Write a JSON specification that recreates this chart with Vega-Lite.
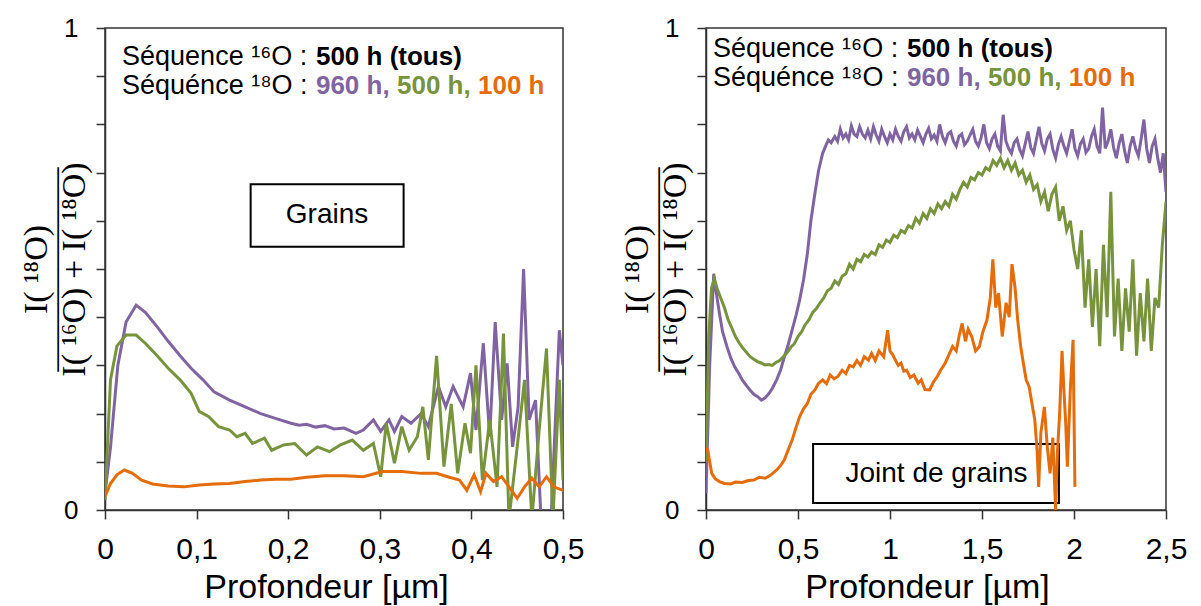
{
  "$schema": "https://vega.github.io/schema/vega-lite/v6.json",
  "autosize": {"type": "none"},
  "padding": {"left": 105, "top": 28, "right": 1096, "bottom": 578},
  "background": "white",
  "spacing": 143,
  "bounds": "flush",
  "config": {
    "font": "Liberation Sans",
    "view": {"stroke": "#333", "strokeWidth": 1.5},
    "axis": {"grid": false, "domainColor": "#333", "tickColor": "#333", "domainWidth": 1.5, "tickWidth": 1.5, "tickSize": 9, "labelColor": "#000", "titleColor": "#000", "labelFont": "Liberation Sans", "titleFont": "Liberation Sans", "labelFlush": false, "labelOverlap": false, "titleFontWeight": "normal"}
  },
  "datasets": {
    "left": [
      {"x":0,"y":0.035,"series":"960 h"},{"x":0.006,"y":0.13,"series":"960 h"},{"x":0.014,"y":0.30,"series":"960 h"},{"x":0.023,"y":0.39,"series":"960 h"},{"x":0.034,"y":0.425,"series":"960 h"},{"x":0.044,"y":0.41,"series":"960 h"},{"x":0.057,"y":0.38,"series":"960 h"},{"x":0.069,"y":0.35,"series":"960 h"},{"x":0.082,"y":0.32,"series":"960 h"},{"x":0.094,"y":0.294,"series":"960 h"},{"x":0.107,"y":0.27,"series":"960 h"},{"x":0.119,"y":0.245,"series":"960 h"},{"x":0.136,"y":0.228,"series":"960 h"},{"x":0.153,"y":0.214,"series":"960 h"},{"x":0.17,"y":0.2,"series":"960 h"},{"x":0.186,"y":0.19,"series":"960 h"},{"x":0.203,"y":0.18,"series":"960 h"},{"x":0.212,"y":0.176,"series":"960 h"},{"x":0.22,"y":0.178,"series":"960 h"},{"x":0.23,"y":0.172,"series":"960 h"},{"x":0.24,"y":0.175,"series":"960 h"},{"x":0.25,"y":0.168,"series":"960 h"},{"x":0.261,"y":0.17,"series":"960 h"},{"x":0.274,"y":0.159,"series":"960 h"},{"x":0.282,"y":0.166,"series":"960 h"},{"x":0.293,"y":0.187,"series":"960 h"},{"x":0.301,"y":0.163,"series":"960 h"},{"x":0.31,"y":0.187,"series":"960 h"},{"x":0.316,"y":0.163,"series":"960 h"},{"x":0.324,"y":0.194,"series":"960 h"},{"x":0.334,"y":0.18,"series":"960 h"},{"x":0.345,"y":0.2,"series":"960 h"},{"x":0.353,"y":0.173,"series":"960 h"},{"x":0.364,"y":0.256,"series":"960 h"},{"x":0.372,"y":0.214,"series":"960 h"},{"x":0.38,"y":0.256,"series":"960 h"},{"x":0.391,"y":0.214,"series":"960 h"},{"x":0.399,"y":0.284,"series":"960 h"},{"x":0.405,"y":0.166,"series":"960 h"},{"x":0.413,"y":0.346,"series":"960 h"},{"x":0.42,"y":0.152,"series":"960 h"},{"x":0.426,"y":0.39,"series":"960 h"},{"x":0.433,"y":0.187,"series":"960 h"},{"x":0.439,"y":0.304,"series":"960 h"},{"x":0.445,"y":0.131,"series":"960 h"},{"x":0.451,"y":0.214,"series":"960 h"},{"x":0.457,"y":0.5,"series":"960 h"},{"x":0.463,"y":0.187,"series":"960 h"},{"x":0.47,"y":0.228,"series":"960 h"},{"x":0.476,"y":-0.02,"series":"960 h"},{"x":0.487,"y":-0.02,"series":"960 h"},{"x":0.496,"y":0.373,"series":"960 h"},{"x":0.5,"y":0.3,"series":"960 h"},
      {"x":0,"y":0.02,"series":"500 h"},{"x":0.006,"y":0.27,"series":"500 h"},{"x":0.013,"y":0.34,"series":"500 h"},{"x":0.023,"y":0.363,"series":"500 h"},{"x":0.034,"y":0.363,"series":"500 h"},{"x":0.044,"y":0.346,"series":"500 h"},{"x":0.057,"y":0.32,"series":"500 h"},{"x":0.069,"y":0.294,"series":"500 h"},{"x":0.082,"y":0.27,"series":"500 h"},{"x":0.094,"y":0.242,"series":"500 h"},{"x":0.103,"y":0.204,"series":"500 h"},{"x":0.113,"y":0.194,"series":"500 h"},{"x":0.124,"y":0.173,"series":"500 h"},{"x":0.136,"y":0.166,"series":"500 h"},{"x":0.144,"y":0.152,"series":"500 h"},{"x":0.153,"y":0.159,"series":"500 h"},{"x":0.161,"y":0.138,"series":"500 h"},{"x":0.174,"y":0.149,"series":"500 h"},{"x":0.182,"y":0.124,"series":"500 h"},{"x":0.195,"y":0.135,"series":"500 h"},{"x":0.207,"y":0.138,"series":"500 h"},{"x":0.22,"y":0.114,"series":"500 h"},{"x":0.232,"y":0.131,"series":"500 h"},{"x":0.245,"y":0.121,"series":"500 h"},{"x":0.257,"y":0.135,"series":"500 h"},{"x":0.27,"y":0.145,"series":"500 h"},{"x":0.282,"y":0.124,"series":"500 h"},{"x":0.293,"y":0.138,"series":"500 h"},{"x":0.301,"y":0.069,"series":"500 h"},{"x":0.307,"y":0.18,"series":"500 h"},{"x":0.316,"y":0.097,"series":"500 h"},{"x":0.324,"y":0.173,"series":"500 h"},{"x":0.332,"y":0.124,"series":"500 h"},{"x":0.341,"y":0.152,"series":"500 h"},{"x":0.347,"y":0.214,"series":"500 h"},{"x":0.353,"y":0.104,"series":"500 h"},{"x":0.362,"y":0.32,"series":"500 h"},{"x":0.37,"y":0.09,"series":"500 h"},{"x":0.378,"y":0.22,"series":"500 h"},{"x":0.385,"y":0.076,"series":"500 h"},{"x":0.393,"y":0.18,"series":"500 h"},{"x":0.399,"y":0.118,"series":"500 h"},{"x":0.405,"y":0.3,"series":"500 h"},{"x":0.412,"y":0.062,"series":"500 h"},{"x":0.42,"y":0.187,"series":"500 h"},{"x":0.428,"y":0.048,"series":"500 h"},{"x":0.435,"y":0.366,"series":"500 h"},{"x":0.441,"y":-0.02,"series":"500 h"},{"x":0.45,"y":0.131,"series":"500 h"},{"x":0.458,"y":0.27,"series":"500 h"},{"x":0.466,"y":-0.02,"series":"500 h"},{"x":0.474,"y":0.166,"series":"500 h"},{"x":0.482,"y":0.335,"series":"500 h"},{"x":0.489,"y":-0.02,"series":"500 h"},{"x":0.496,"y":0.27,"series":"500 h"},{"x":0.5,"y":0.062,"series":"500 h"},
      {"x":0,"y":0.028,"series":"100 h"},{"x":0.006,"y":0.055,"series":"100 h"},{"x":0.013,"y":0.073,"series":"100 h"},{"x":0.021,"y":0.083,"series":"100 h"},{"x":0.03,"y":0.076,"series":"100 h"},{"x":0.04,"y":0.062,"series":"100 h"},{"x":0.052,"y":0.054,"series":"100 h"},{"x":0.069,"y":0.05,"series":"100 h"},{"x":0.086,"y":0.048,"series":"100 h"},{"x":0.103,"y":0.052,"series":"100 h"},{"x":0.119,"y":0.054,"series":"100 h"},{"x":0.136,"y":0.055,"series":"100 h"},{"x":0.153,"y":0.059,"series":"100 h"},{"x":0.17,"y":0.062,"series":"100 h"},{"x":0.186,"y":0.064,"series":"100 h"},{"x":0.203,"y":0.064,"series":"100 h"},{"x":0.22,"y":0.068,"series":"100 h"},{"x":0.24,"y":0.071,"series":"100 h"},{"x":0.261,"y":0.071,"series":"100 h"},{"x":0.282,"y":0.069,"series":"100 h"},{"x":0.303,"y":0.08,"series":"100 h"},{"x":0.324,"y":0.08,"series":"100 h"},{"x":0.345,"y":0.076,"series":"100 h"},{"x":0.362,"y":0.076,"series":"100 h"},{"x":0.374,"y":0.069,"series":"100 h"},{"x":0.387,"y":0.062,"series":"100 h"},{"x":0.395,"y":0.041,"series":"100 h"},{"x":0.403,"y":0.073,"series":"100 h"},{"x":0.41,"y":0.038,"series":"100 h"},{"x":0.416,"y":0.076,"series":"100 h"},{"x":0.424,"y":0.059,"series":"100 h"},{"x":0.433,"y":0.069,"series":"100 h"},{"x":0.441,"y":0.048,"series":"100 h"},{"x":0.45,"y":0.024,"series":"100 h"},{"x":0.458,"y":0.048,"series":"100 h"},{"x":0.466,"y":0.066,"series":"100 h"},{"x":0.474,"y":0.048,"series":"100 h"},{"x":0.482,"y":0.069,"series":"100 h"},{"x":0.49,"y":0.048,"series":"100 h"},{"x":0.5,"y":0.041,"series":"100 h"}
    ],
    "right": [
      {"x":0,"y":0.035,"series":"960 h"},{"x":0.02,"y":0.3,"series":"960 h"},{"x":0.042,"y":0.49,"series":"960 h"},{"x":0.06,"y":0.44,"series":"960 h"},{"x":0.073,"y":0.408,"series":"960 h"},{"x":0.09,"y":0.37,"series":"960 h"},{"x":0.114,"y":0.339,"series":"960 h"},{"x":0.135,"y":0.315,"series":"960 h"},{"x":0.156,"y":0.297,"series":"960 h"},{"x":0.18,"y":0.282,"series":"960 h"},{"x":0.197,"y":0.27,"series":"960 h"},{"x":0.22,"y":0.258,"series":"960 h"},{"x":0.239,"y":0.249,"series":"960 h"},{"x":0.26,"y":0.24,"series":"960 h"},{"x":0.281,"y":0.235,"series":"960 h"},{"x":0.301,"y":0.228,"series":"960 h"},{"x":0.32,"y":0.232,"series":"960 h"},{"x":0.343,"y":0.242,"series":"960 h"},{"x":0.36,"y":0.252,"series":"960 h"},{"x":0.384,"y":0.27,"series":"960 h"},{"x":0.405,"y":0.29,"series":"960 h"},{"x":0.426,"y":0.318,"series":"960 h"},{"x":0.448,"y":0.345,"series":"960 h"},{"x":0.468,"y":0.373,"series":"960 h"},{"x":0.49,"y":0.405,"series":"960 h"},{"x":0.509,"y":0.436,"series":"960 h"},{"x":0.53,"y":0.477,"series":"960 h"},{"x":0.551,"y":0.532,"series":"960 h"},{"x":0.57,"y":0.6,"series":"960 h"},{"x":0.592,"y":0.657,"series":"960 h"},{"x":0.612,"y":0.705,"series":"960 h"},{"x":0.634,"y":0.74,"series":"960 h"},{"x":0.65,"y":0.755,"series":"960 h"},{"x":0.665,"y":0.768,"series":"960 h"},{"x":0.68,"y":0.762,"series":"960 h"},{"x":0.7,"y":0.775,"series":"960 h"},{"x":0.715,"y":0.765,"series":"960 h"},{"x":0.73,"y":0.79,"series":"960 h"},{"x":0.745,"y":0.772,"series":"960 h"},{"x":0.76,"y":0.78,"series":"960 h"},{"x":0.775,"y":0.768,"series":"960 h"},{"x":0.79,"y":0.797,"series":"960 h"},{"x":0.805,"y":0.78,"series":"960 h"},{"x":0.82,"y":0.775,"series":"960 h"},{"x":0.835,"y":0.795,"series":"960 h"},{"x":0.85,"y":0.78,"series":"960 h"},{"x":0.865,"y":0.772,"series":"960 h"},{"x":0.88,"y":0.788,"series":"960 h"},{"x":0.895,"y":0.77,"series":"960 h"},{"x":0.91,"y":0.795,"series":"960 h"},{"x":0.925,"y":0.778,"series":"960 h"},{"x":0.94,"y":0.765,"series":"960 h"},{"x":0.955,"y":0.79,"series":"960 h"},{"x":0.97,"y":0.775,"series":"960 h"},{"x":0.985,"y":0.762,"series":"960 h"},{"x":1.0,"y":0.78,"series":"960 h"},{"x":1.015,"y":0.768,"series":"960 h"},{"x":1.03,"y":0.79,"series":"960 h"},{"x":1.045,"y":0.775,"series":"960 h"},{"x":1.06,"y":0.765,"series":"960 h"},{"x":1.075,"y":0.785,"series":"960 h"},{"x":1.09,"y":0.795,"series":"960 h"},{"x":1.105,"y":0.772,"series":"960 h"},{"x":1.12,"y":0.78,"series":"960 h"},{"x":1.135,"y":0.768,"series":"960 h"},{"x":1.15,"y":0.788,"series":"960 h"},{"x":1.165,"y":0.775,"series":"960 h"},{"x":1.18,"y":0.762,"series":"960 h"},{"x":1.195,"y":0.78,"series":"960 h"},{"x":1.21,"y":0.792,"series":"960 h"},{"x":1.225,"y":0.77,"series":"960 h"},{"x":1.24,"y":0.778,"series":"960 h"},{"x":1.255,"y":0.765,"series":"960 h"},{"x":1.27,"y":0.8,"series":"960 h"},{"x":1.285,"y":0.775,"series":"960 h"},{"x":1.3,"y":0.762,"series":"960 h"},{"x":1.315,"y":0.78,"series":"960 h"},{"x":1.33,"y":0.785,"series":"960 h"},{"x":1.345,"y":0.765,"series":"960 h"},{"x":1.36,"y":0.755,"series":"960 h"},{"x":1.375,"y":0.775,"series":"960 h"},{"x":1.39,"y":0.78,"series":"960 h"},{"x":1.405,"y":0.758,"series":"960 h"},{"x":1.42,"y":0.765,"series":"960 h"},{"x":1.435,"y":0.778,"series":"960 h"},{"x":1.45,"y":0.79,"series":"960 h"},{"x":1.465,"y":0.765,"series":"960 h"},{"x":1.48,"y":0.755,"series":"960 h"},{"x":1.495,"y":0.772,"series":"960 h"},{"x":1.51,"y":0.8,"series":"960 h"},{"x":1.525,"y":0.762,"series":"960 h"},{"x":1.54,"y":0.75,"series":"960 h"},{"x":1.555,"y":0.77,"series":"960 h"},{"x":1.57,"y":0.78,"series":"960 h"},{"x":1.585,"y":0.755,"series":"960 h"},{"x":1.6,"y":0.745,"series":"960 h"},{"x":1.615,"y":0.82,"series":"960 h"},{"x":1.63,"y":0.765,"series":"960 h"},{"x":1.645,"y":0.75,"series":"960 h"},{"x":1.66,"y":0.74,"series":"960 h"},{"x":1.675,"y":0.762,"series":"960 h"},{"x":1.69,"y":0.77,"series":"960 h"},{"x":1.705,"y":0.748,"series":"960 h"},{"x":1.72,"y":0.735,"series":"960 h"},{"x":1.735,"y":0.76,"series":"960 h"},{"x":1.75,"y":0.785,"series":"960 h"},{"x":1.765,"y":0.752,"series":"960 h"},{"x":1.78,"y":0.74,"series":"960 h"},{"x":1.795,"y":0.768,"series":"960 h"},{"x":1.81,"y":0.795,"series":"960 h"},{"x":1.825,"y":0.76,"series":"960 h"},{"x":1.84,"y":0.745,"series":"960 h"},{"x":1.855,"y":0.77,"series":"960 h"},{"x":1.87,"y":0.78,"series":"960 h"},{"x":1.885,"y":0.748,"series":"960 h"},{"x":1.9,"y":0.73,"series":"960 h"},{"x":1.915,"y":0.758,"series":"960 h"},{"x":1.93,"y":0.775,"series":"960 h"},{"x":1.945,"y":0.755,"series":"960 h"},{"x":1.96,"y":0.74,"series":"960 h"},{"x":1.975,"y":0.765,"series":"960 h"},{"x":1.99,"y":0.79,"series":"960 h"},{"x":2.005,"y":0.75,"series":"960 h"},{"x":2.02,"y":0.735,"series":"960 h"},{"x":2.035,"y":0.76,"series":"960 h"},{"x":2.05,"y":0.77,"series":"960 h"},{"x":2.065,"y":0.742,"series":"960 h"},{"x":2.08,"y":0.75,"series":"960 h"},{"x":2.095,"y":0.775,"series":"960 h"},{"x":2.11,"y":0.79,"series":"960 h"},{"x":2.125,"y":0.755,"series":"960 h"},{"x":2.14,"y":0.74,"series":"960 h"},{"x":2.155,"y":0.835,"series":"960 h"},{"x":2.17,"y":0.75,"series":"960 h"},{"x":2.185,"y":0.765,"series":"960 h"},{"x":2.2,"y":0.79,"series":"960 h"},{"x":2.215,"y":0.752,"series":"960 h"},{"x":2.23,"y":0.73,"series":"960 h"},{"x":2.245,"y":0.76,"series":"960 h"},{"x":2.26,"y":0.78,"series":"960 h"},{"x":2.275,"y":0.745,"series":"960 h"},{"x":2.29,"y":0.72,"series":"960 h"},{"x":2.305,"y":0.755,"series":"960 h"},{"x":2.32,"y":0.775,"series":"960 h"},{"x":2.335,"y":0.75,"series":"960 h"},{"x":2.35,"y":0.735,"series":"960 h"},{"x":2.365,"y":0.77,"series":"960 h"},{"x":2.38,"y":0.81,"series":"960 h"},{"x":2.395,"y":0.75,"series":"960 h"},{"x":2.41,"y":0.72,"series":"960 h"},{"x":2.425,"y":0.755,"series":"960 h"},{"x":2.44,"y":0.77,"series":"960 h"},{"x":2.455,"y":0.73,"series":"960 h"},{"x":2.47,"y":0.7,"series":"960 h"},{"x":2.485,"y":0.74,"series":"960 h"},{"x":2.5,"y":0.66,"series":"960 h"},
      {"x":0,"y":0.1,"series":"500 h"},{"x":0.015,"y":0.36,"series":"500 h"},{"x":0.03,"y":0.46,"series":"500 h"},{"x":0.045,"y":0.48,"series":"500 h"},{"x":0.06,"y":0.46,"series":"500 h"},{"x":0.08,"y":0.44,"series":"500 h"},{"x":0.1,"y":0.42,"series":"500 h"},{"x":0.12,"y":0.395,"series":"500 h"},{"x":0.14,"y":0.378,"series":"500 h"},{"x":0.16,"y":0.36,"series":"500 h"},{"x":0.18,"y":0.347,"series":"500 h"},{"x":0.2,"y":0.336,"series":"500 h"},{"x":0.22,"y":0.327,"series":"500 h"},{"x":0.24,"y":0.318,"series":"500 h"},{"x":0.26,"y":0.313,"series":"500 h"},{"x":0.28,"y":0.308,"series":"500 h"},{"x":0.3,"y":0.305,"series":"500 h"},{"x":0.32,"y":0.301,"series":"500 h"},{"x":0.34,"y":0.302,"series":"500 h"},{"x":0.36,"y":0.3,"series":"500 h"},{"x":0.38,"y":0.306,"series":"500 h"},{"x":0.4,"y":0.31,"series":"500 h"},{"x":0.42,"y":0.318,"series":"500 h"},{"x":0.44,"y":0.326,"series":"500 h"},{"x":0.46,"y":0.337,"series":"500 h"},{"x":0.48,"y":0.345,"series":"500 h"},{"x":0.5,"y":0.36,"series":"500 h"},{"x":0.52,"y":0.37,"series":"500 h"},{"x":0.54,"y":0.385,"series":"500 h"},{"x":0.56,"y":0.395,"series":"500 h"},{"x":0.58,"y":0.41,"series":"500 h"},{"x":0.6,"y":0.418,"series":"500 h"},{"x":0.62,"y":0.43,"series":"500 h"},{"x":0.64,"y":0.44,"series":"500 h"},{"x":0.66,"y":0.455,"series":"500 h"},{"x":0.68,"y":0.46,"series":"500 h"},{"x":0.7,"y":0.475,"series":"500 h"},{"x":0.72,"y":0.468,"series":"500 h"},{"x":0.74,"y":0.485,"series":"500 h"},{"x":0.76,"y":0.49,"series":"500 h"},{"x":0.78,"y":0.51,"series":"500 h"},{"x":0.8,"y":0.5,"series":"500 h"},{"x":0.82,"y":0.52,"series":"500 h"},{"x":0.84,"y":0.515,"series":"500 h"},{"x":0.86,"y":0.53,"series":"500 h"},{"x":0.88,"y":0.525,"series":"500 h"},{"x":0.9,"y":0.535,"series":"500 h"},{"x":0.92,"y":0.53,"series":"500 h"},{"x":0.94,"y":0.55,"series":"500 h"},{"x":0.96,"y":0.545,"series":"500 h"},{"x":0.98,"y":0.56,"series":"500 h"},{"x":1.0,"y":0.555,"series":"500 h"},{"x":1.02,"y":0.57,"series":"500 h"},{"x":1.04,"y":0.565,"series":"500 h"},{"x":1.06,"y":0.58,"series":"500 h"},{"x":1.08,"y":0.575,"series":"500 h"},{"x":1.1,"y":0.59,"series":"500 h"},{"x":1.12,"y":0.585,"series":"500 h"},{"x":1.14,"y":0.605,"series":"500 h"},{"x":1.16,"y":0.595,"series":"500 h"},{"x":1.18,"y":0.615,"series":"500 h"},{"x":1.2,"y":0.605,"series":"500 h"},{"x":1.22,"y":0.625,"series":"500 h"},{"x":1.24,"y":0.615,"series":"500 h"},{"x":1.26,"y":0.635,"series":"500 h"},{"x":1.28,"y":0.625,"series":"500 h"},{"x":1.3,"y":0.64,"series":"500 h"},{"x":1.32,"y":0.63,"series":"500 h"},{"x":1.34,"y":0.655,"series":"500 h"},{"x":1.36,"y":0.645,"series":"500 h"},{"x":1.38,"y":0.665,"series":"500 h"},{"x":1.4,"y":0.68,"series":"500 h"},{"x":1.42,"y":0.67,"series":"500 h"},{"x":1.44,"y":0.69,"series":"500 h"},{"x":1.46,"y":0.685,"series":"500 h"},{"x":1.48,"y":0.7,"series":"500 h"},{"x":1.5,"y":0.695,"series":"500 h"},{"x":1.52,"y":0.71,"series":"500 h"},{"x":1.54,"y":0.705,"series":"500 h"},{"x":1.56,"y":0.725,"series":"500 h"},{"x":1.58,"y":0.715,"series":"500 h"},{"x":1.6,"y":0.73,"series":"500 h"},{"x":1.62,"y":0.71,"series":"500 h"},{"x":1.64,"y":0.725,"series":"500 h"},{"x":1.66,"y":0.705,"series":"500 h"},{"x":1.68,"y":0.72,"series":"500 h"},{"x":1.7,"y":0.695,"series":"500 h"},{"x":1.72,"y":0.705,"series":"500 h"},{"x":1.74,"y":0.68,"series":"500 h"},{"x":1.76,"y":0.695,"series":"500 h"},{"x":1.78,"y":0.665,"series":"500 h"},{"x":1.8,"y":0.675,"series":"500 h"},{"x":1.82,"y":0.64,"series":"500 h"},{"x":1.84,"y":0.66,"series":"500 h"},{"x":1.86,"y":0.62,"series":"500 h"},{"x":1.88,"y":0.655,"series":"500 h"},{"x":1.9,"y":0.67,"series":"500 h"},{"x":1.92,"y":0.6,"series":"500 h"},{"x":1.94,"y":0.63,"series":"500 h"},{"x":1.96,"y":0.58,"series":"500 h"},{"x":1.98,"y":0.6,"series":"500 h"},{"x":2.0,"y":0.54,"series":"500 h"},{"x":2.02,"y":0.5,"series":"500 h"},{"x":2.04,"y":0.58,"series":"500 h"},{"x":2.06,"y":0.42,"series":"500 h"},{"x":2.08,"y":0.52,"series":"500 h"},{"x":2.1,"y":0.38,"series":"500 h"},{"x":2.12,"y":0.5,"series":"500 h"},{"x":2.14,"y":0.34,"series":"500 h"},{"x":2.16,"y":0.55,"series":"500 h"},{"x":2.18,"y":0.4,"series":"500 h"},{"x":2.2,"y":0.66,"series":"500 h"},{"x":2.22,"y":0.36,"series":"500 h"},{"x":2.24,"y":0.48,"series":"500 h"},{"x":2.26,"y":0.33,"series":"500 h"},{"x":2.28,"y":0.46,"series":"500 h"},{"x":2.3,"y":0.37,"series":"500 h"},{"x":2.32,"y":0.52,"series":"500 h"},{"x":2.34,"y":0.32,"series":"500 h"},{"x":2.36,"y":0.45,"series":"500 h"},{"x":2.38,"y":0.35,"series":"500 h"},{"x":2.4,"y":0.48,"series":"500 h"},{"x":2.42,"y":0.33,"series":"500 h"},{"x":2.44,"y":0.44,"series":"500 h"},{"x":2.46,"y":0.42,"series":"500 h"},{"x":2.48,"y":0.55,"series":"500 h"},{"x":2.5,"y":0.64,"series":"500 h"},
      {"x":0,"y":0.13,"series":"100 h"},{"x":0.01,"y":0.124,"series":"100 h"},{"x":0.02,"y":0.1,"series":"100 h"},{"x":0.031,"y":0.076,"series":"100 h"},{"x":0.05,"y":0.065,"series":"100 h"},{"x":0.073,"y":0.059,"series":"100 h"},{"x":0.1,"y":0.055,"series":"100 h"},{"x":0.135,"y":0.054,"series":"100 h"},{"x":0.16,"y":0.058,"series":"100 h"},{"x":0.197,"y":0.057,"series":"100 h"},{"x":0.23,"y":0.061,"series":"100 h"},{"x":0.26,"y":0.062,"series":"100 h"},{"x":0.29,"y":0.068,"series":"100 h"},{"x":0.322,"y":0.066,"series":"100 h"},{"x":0.35,"y":0.072,"series":"100 h"},{"x":0.384,"y":0.083,"series":"100 h"},{"x":0.405,"y":0.092,"series":"100 h"},{"x":0.426,"y":0.104,"series":"100 h"},{"x":0.447,"y":0.125,"series":"100 h"},{"x":0.468,"y":0.145,"series":"100 h"},{"x":0.49,"y":0.172,"series":"100 h"},{"x":0.509,"y":0.194,"series":"100 h"},{"x":0.53,"y":0.21,"series":"100 h"},{"x":0.551,"y":0.221,"series":"100 h"},{"x":0.57,"y":0.24,"series":"100 h"},{"x":0.592,"y":0.249,"series":"100 h"},{"x":0.61,"y":0.262,"series":"100 h"},{"x":0.634,"y":0.27,"series":"100 h"},{"x":0.655,"y":0.262,"series":"100 h"},{"x":0.675,"y":0.28,"series":"100 h"},{"x":0.696,"y":0.272,"series":"100 h"},{"x":0.717,"y":0.277,"series":"100 h"},{"x":0.74,"y":0.29,"series":"100 h"},{"x":0.76,"y":0.283,"series":"100 h"},{"x":0.78,"y":0.3,"series":"100 h"},{"x":0.8,"y":0.297,"series":"100 h"},{"x":0.82,"y":0.31,"series":"100 h"},{"x":0.84,"y":0.3,"series":"100 h"},{"x":0.86,"y":0.318,"series":"100 h"},{"x":0.883,"y":0.311,"series":"100 h"},{"x":0.9,"y":0.325,"series":"100 h"},{"x":0.92,"y":0.31,"series":"100 h"},{"x":0.94,"y":0.33,"series":"100 h"},{"x":0.966,"y":0.318,"series":"100 h"},{"x":0.987,"y":0.373,"series":"100 h"},{"x":1.0,"y":0.33,"series":"100 h"},{"x":1.015,"y":0.322,"series":"100 h"},{"x":1.029,"y":0.311,"series":"100 h"},{"x":1.045,"y":0.3,"series":"100 h"},{"x":1.06,"y":0.305,"series":"100 h"},{"x":1.075,"y":0.288,"series":"100 h"},{"x":1.091,"y":0.29,"series":"100 h"},{"x":1.11,"y":0.275,"series":"100 h"},{"x":1.13,"y":0.28,"series":"100 h"},{"x":1.153,"y":0.263,"series":"100 h"},{"x":1.17,"y":0.27,"series":"100 h"},{"x":1.19,"y":0.25,"series":"100 h"},{"x":1.216,"y":0.249,"series":"100 h"},{"x":1.235,"y":0.265,"series":"100 h"},{"x":1.257,"y":0.277,"series":"100 h"},{"x":1.275,"y":0.29,"series":"100 h"},{"x":1.299,"y":0.304,"series":"100 h"},{"x":1.32,"y":0.322,"series":"100 h"},{"x":1.34,"y":0.339,"series":"100 h"},{"x":1.36,"y":0.33,"series":"100 h"},{"x":1.375,"y":0.36,"series":"100 h"},{"x":1.392,"y":0.387,"series":"100 h"},{"x":1.41,"y":0.35,"series":"100 h"},{"x":1.425,"y":0.375,"series":"100 h"},{"x":1.444,"y":0.36,"series":"100 h"},{"x":1.465,"y":0.33,"series":"100 h"},{"x":1.486,"y":0.339,"series":"100 h"},{"x":1.505,"y":0.37,"series":"100 h"},{"x":1.527,"y":0.394,"series":"100 h"},{"x":1.545,"y":0.44,"series":"100 h"},{"x":1.559,"y":0.52,"series":"100 h"},{"x":1.575,"y":0.42,"series":"100 h"},{"x":1.59,"y":0.45,"series":"100 h"},{"x":1.61,"y":0.36,"series":"100 h"},{"x":1.631,"y":0.43,"series":"100 h"},{"x":1.648,"y":0.4,"series":"100 h"},{"x":1.663,"y":0.51,"series":"100 h"},{"x":1.68,"y":0.46,"series":"100 h"},{"x":1.694,"y":0.394,"series":"100 h"},{"x":1.71,"y":0.34,"series":"100 h"},{"x":1.725,"y":0.304,"series":"100 h"},{"x":1.74,"y":0.27,"series":"100 h"},{"x":1.756,"y":0.256,"series":"100 h"},{"x":1.772,"y":0.22,"series":"100 h"},{"x":1.787,"y":0.187,"series":"100 h"},{"x":1.8,"y":0.12,"series":"100 h"},{"x":1.808,"y":0.048,"series":"100 h"},{"x":1.82,"y":0.16,"series":"100 h"},{"x":1.839,"y":0.214,"series":"100 h"},{"x":1.855,"y":0.13,"series":"100 h"},{"x":1.87,"y":0.076,"series":"100 h"},{"x":1.885,"y":0.15,"series":"100 h"},{"x":1.9,"y":0.0,"series":"100 h"},{"x":1.91,"y":0.12,"series":"100 h"},{"x":1.922,"y":0.2,"series":"100 h"},{"x":1.935,"y":0.33,"series":"100 h"},{"x":1.945,"y":0.25,"series":"100 h"},{"x":1.955,"y":0.18,"series":"100 h"},{"x":1.964,"y":0.09,"series":"100 h"},{"x":1.98,"y":0.25,"series":"100 h"},{"x":1.995,"y":0.353,"series":"100 h"},{"x":2.005,"y":0.048,"series":"100 h"}
    ],
    "notesLeft": [
      {"x":0.0186,"y":0.923,"text":"Séquence ¹⁶O : ","role":"prefix"},
      {"x":0.0186,"y":0.863,"text":"Séquénce ¹⁸O : ","role":"prefix"},
      {"x":0.2303,"y":0.923,"text":"500 h (tous)","role":"tous"},
      {"x":0.2303,"y":0.863,"text":"960 h,","role":"val","series":"960 h"},
      {"x":0.3188,"y":0.863,"text":"500 h,","role":"val","series":"500 h"},
      {"x":0.4072,"y":0.863,"text":"100 h","role":"val","series":"100 h"}
    ],
    "notesRight": [
      {"x":0.038,"y":0.94,"text":"Séquence ¹⁶O : ","role":"prefix"},
      {"x":0.038,"y":0.88,"text":"Séquénce ¹⁸O : ","role":"prefix"},
      {"x":1.092,"y":0.94,"text":"500 h (tous)","role":"tous"},
      {"x":1.092,"y":0.88,"text":"960 h,","role":"val","series":"960 h"},
      {"x":1.532,"y":0.88,"text":"500 h,","role":"val","series":"500 h"},
      {"x":1.972,"y":0.88,"text":"100 h","role":"val","series":"100 h"}
    ],
    "boxLeft": [{"x":0.159,"x2":0.326,"y":0.676,"y2":0.546,"tx":0.2424,"ty":0.613,"label":"Grains"}],
    "boxRight": [{"x":0.582,"x2":1.918,"y":0.137,"y2":0.0145,"tx":1.253,"ty":0.075,"label":"Joint de grains"}]
  },
  "hconcat": [
    {
      "width": 458,
      "height": 482,
      "encoding": {
        "x": {"field": "x", "type": "quantitative", "scale": {"domain": [0, 0.5], "nice": false},
          "axis": {"values": [0, 0.1, 0.2, 0.3, 0.4, 0.5], "format": "~g", "labelExpr": "replace(datum.label, '.', ',')", "labelFontSize": 30, "labelPadding": 15, "title": "Profondeur [µm]", "titleFontSize": 34, "titleX": 221, "titleY": 87, "titleBaseline": "alphabetic", "titleAlign": "center"}},
        "y": {"field": "y", "type": "quantitative", "scale": {"domain": [0, 1], "nice": false},
          "axis": {"values": [0, 0.1, 0.2, 0.3, 0.4, 0.5, 0.6, 0.7, 0.8, 0.9, 1], "format": "~g", "labelExpr": "datum.value == 0 || datum.value == 1 ? datum.label : ''", "labelFontSize": 26, "labelPadding": 18,
            "title": ["I( ¹⁸O)", "——————", "I( ¹⁶O) + I( ¹⁸O)"], "titleFont": "Liberation Serif", "titleFontSize": 34, "titleLineHeight": 19, "titleX": -69, "titleY": 241, "titleAngle": 270, "titleBaseline": "middle", "titleAlign": "center"}}
      },
      "layer": [
        {"data": {"name": "boxLeft"}, "mark": {"type": "rect", "fillOpacity": 0, "stroke": "#000", "strokeWidth": 2}, "encoding": {"x2": {"field": "x2"}, "y2": {"field": "y2"}}},
        {"data": {"name": "boxLeft"}, "mark": {"type": "text", "fontSize": 28, "align": "center", "baseline": "middle", "color": "#000"}, "encoding": {"x": {"field": "tx", "type": "quantitative"}, "y": {"field": "ty", "type": "quantitative"}, "text": {"field": "label"}}},
        {"data": {"name": "left"}, "mark": {"type": "line", "strokeWidth": 3, "clip": true}, "encoding": {"color": {"field": "series", "type": "nominal", "scale": {"domain": ["960 h", "500 h", "100 h"], "range": ["#8064A2", "#77933C", "#E46C0A"]}, "legend": null}}},
        {"data": {"name": "notesLeft"}, "transform": [{"filter": "datum.role === 'prefix'"}], "mark": {"type": "text", "fontSize": 27, "align": "left", "baseline": "alphabetic", "color": "#000"}, "encoding": {"text": {"field": "text"}}},
        {"data": {"name": "notesLeft"}, "transform": [{"filter": "datum.role === 'tous'"}], "mark": {"type": "text", "fontSize": 26, "fontWeight": "bold", "align": "left", "baseline": "alphabetic", "color": "#000"}, "encoding": {"text": {"field": "text"}}},
        {"data": {"name": "notesLeft"}, "transform": [{"filter": "datum.role === 'val'"}], "mark": {"type": "text", "fontSize": 26, "fontWeight": "bold", "align": "left", "baseline": "alphabetic"}, "encoding": {"text": {"field": "text"}, "color": {"field": "series", "type": "nominal", "legend": null}}}
      ]
    },
    {
      "width": 460,
      "height": 482,
      "encoding": {
        "x": {"field": "x", "type": "quantitative", "scale": {"domain": [0, 2.5], "nice": false},
          "axis": {"values": [0, 0.5, 1, 1.5, 2, 2.5], "format": "~g", "labelExpr": "replace(datum.label, '.', ',')", "labelFontSize": 30, "labelPadding": 15, "title": "Profondeur [µm]", "titleFontSize": 34, "titleX": 221, "titleY": 87, "titleBaseline": "alphabetic", "titleAlign": "center"}},
        "y": {"field": "y", "type": "quantitative", "scale": {"domain": [0, 1], "nice": false},
          "axis": {"values": [0, 0.1, 0.2, 0.3, 0.4, 0.5, 0.6, 0.7, 0.8, 0.9, 1], "format": "~g", "labelExpr": "datum.value == 0 || datum.value == 1 ? datum.label : ''", "labelFontSize": 26, "labelPadding": 18,
            "title": ["I( ¹⁸O)", "——————", "I( ¹⁶O) + I( ¹⁸O)"], "titleFont": "Liberation Serif", "titleFontSize": 34, "titleLineHeight": 19, "titleX": -69, "titleY": 241, "titleAngle": 270, "titleBaseline": "middle", "titleAlign": "center"}}
      },
      "layer": [
        {"data": {"name": "boxRight"}, "mark": {"type": "rect", "fillOpacity": 0, "stroke": "#000", "strokeWidth": 2}, "encoding": {"x2": {"field": "x2"}, "y2": {"field": "y2"}}},
        {"data": {"name": "boxRight"}, "mark": {"type": "text", "fontSize": 28, "align": "center", "baseline": "middle", "color": "#000"}, "encoding": {"x": {"field": "tx", "type": "quantitative"}, "y": {"field": "ty", "type": "quantitative"}, "text": {"field": "label"}}},
        {"data": {"name": "right"}, "mark": {"type": "line", "strokeWidth": 3, "clip": true}, "encoding": {"color": {"field": "series", "type": "nominal", "scale": {"domain": ["960 h", "500 h", "100 h"], "range": ["#8064A2", "#77933C", "#E46C0A"]}, "legend": null}}},
        {"data": {"name": "notesRight"}, "transform": [{"filter": "datum.role === 'prefix'"}], "mark": {"type": "text", "fontSize": 27, "align": "left", "baseline": "alphabetic", "color": "#000"}, "encoding": {"text": {"field": "text"}}},
        {"data": {"name": "notesRight"}, "transform": [{"filter": "datum.role === 'tous'"}], "mark": {"type": "text", "fontSize": 26, "fontWeight": "bold", "align": "left", "baseline": "alphabetic", "color": "#000"}, "encoding": {"text": {"field": "text"}}},
        {"data": {"name": "notesRight"}, "transform": [{"filter": "datum.role === 'val'"}], "mark": {"type": "text", "fontSize": 26, "fontWeight": "bold", "align": "left", "baseline": "alphabetic"}, "encoding": {"text": {"field": "text"}, "color": {"field": "series", "type": "nominal", "legend": null}}}
      ]
    }
  ]
}
